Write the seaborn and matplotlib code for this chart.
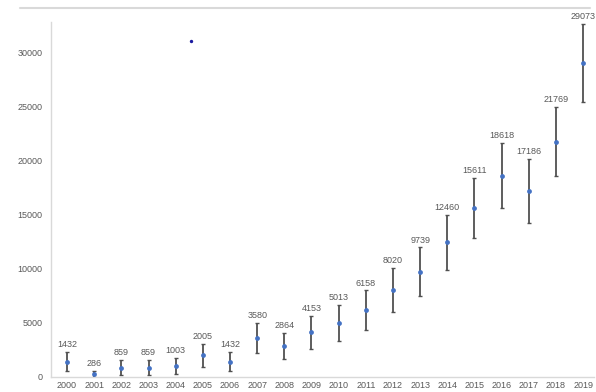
import numpy as np
import pandas as pd
import matplotlib
matplotlib.use("Agg")
import matplotlib.pyplot as plt
import seaborn as sns
from matplotlib.lines import Line2D

# values
years = [str(y) for y in range(2000, 2020)]
values = [1432, 286, 859, 859, 1003, 2005, 1432, 3580, 2864, 4153,
          5013, 6158, 8020, 9739, 12460, 15611, 18618, 17186, 21769, 29073]
errors = [890, 270, 710, 710, 760, 1060, 880, 1400, 1200, 1520,
          1650, 1850, 2050, 2250, 2570, 2790, 3010, 2970, 3200, 3620]
# stray dot present in the source image (x as category position, y value)
stray_x = [4.57]
stray_y = [31080]

df = pd.DataFrame({"pos": np.arange(len(years)), "year": years,
                   "value": values, "err": errors})

sns.set_style("white")
plt.rcParams["font.family"] = ["Liberation Sans", "DejaVu Sans"]

fig = plt.figure(figsize=(5.96, 3.92), dpi=100)
ax = fig.add_axes([51 / 596, 15 / 392, 543 / 596, 355 / 392])

ax.errorbar(df["pos"], df["value"], yerr=df["err"], fmt="none",
            ecolor="#505050", elinewidth=1.3, capsize=1.6, capthick=1.0, zorder=2)
sns.scatterplot(data=df, x="pos", y="value", color="#4472C4", s=12,
                edgecolor="#4472C4", linewidth=0, ax=ax, zorder=3)
ax.scatter(stray_x, stray_y, s=2, color="#1a1aa0", zorder=3)

for p, v, e in zip(df["pos"], df["value"], df["err"]):
    ax.annotate(str(v), (p, v + e), xytext=(0, 2), textcoords="offset points",
                ha="center", va="bottom", fontsize=6.5, color="#595959")

ax.set_xlim(-0.59, 19.4)
ax.set_ylim(0, 32850)
ax.set_xticks(df["pos"])
ax.set_xticklabels(years)
ax.set_yticks([0, 5000, 10000, 15000, 20000, 25000, 30000])
ax.tick_params(axis="both", length=0, labelsize=6.5, labelcolor="#595959")
ax.tick_params(axis="x", pad=3)
ax.tick_params(axis="y", pad=6)
ax.set_xlabel("")
ax.set_ylabel("")

for s in ["top", "right"]:
    ax.spines[s].set_visible(False)
for s in ["left", "bottom"]:
    ax.spines[s].set_color("#d9d9d9")
    ax.spines[s].set_linewidth(1.0)

# thin rule across the top of the chart
fig.add_artist(Line2D([20 / 596, 590 / 596], [384 / 392, 384 / 392],
                      color="#d9d9d9", linewidth=1.5))

fig.savefig("out.png", dpi=100)
